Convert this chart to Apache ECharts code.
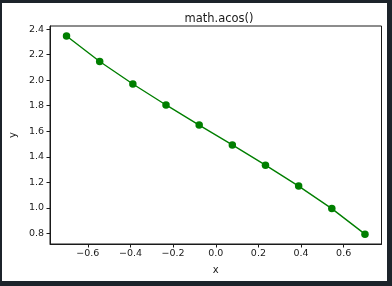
<!DOCTYPE html>
<html>
<head>
<meta charset="utf-8">
<script src="https://cdn.jsdelivr.net/npm/echarts@6/dist/echarts.min.js"></script>
<style>
html,body{margin:0;padding:0;background:#1c232a;}
#c{width:392px;height:286px;}
</style>
</head>
<body>
<div id="c"></div>
<script>
const xValues = [-0.7, -0.5444, -0.3889, -0.2333, -0.0778, 0.0778, 0.2333, 0.3889, 0.5444, 0.7];
const yValues = [2.346, 2.146, 1.970, 1.806, 1.649, 1.493, 1.335, 1.171, 0.995, 0.795];
const xTicks = [-0.6, -0.4, -0.2, 0.0, 0.2, 0.4, 0.6];
const yTicks = [0.8, 1.0, 1.2, 1.4, 1.6, 1.8, 2.0, 2.2, 2.4];
const titleText = 'math.acos()';
const xName = 'x';
const yName = 'y';

const fmt = v => {
  const s = Math.abs(v).toFixed(1);
  return (v < -1e-9 ? '\u2212' : '') + s;
};
const font = 'DejaVu Sans';
const chart = echarts.init(document.getElementById('c'), null, {renderer: 'canvas'});
chart.setOption({
  backgroundColor: '#1c232a',
  animation: false,
  graphic: [{type: 'rect', z: -10, silent: true, shape: {x: 2, y: 3, width: 385, height: 278}, style: {fill: '#ffffff'}}],
  title: {
    text: titleText, left: 214, top: 8, textAlign: 'center',
    textStyle: {fontFamily: font, fontSize: 11.5, fontWeight: 'normal', color: '#1a1a1a'}
  },
  grid: {left: 46.5, top: 26, right: 10.5, bottom: 42, show: true, borderColor: '#1a1a1a', borderWidth: 1, backgroundColor: 'transparent'},
  xAxis: {
    type: 'value', min: -0.7775, max: 0.7775,
    name: xName, nameLocation: 'middle', nameGap: 21,
    nameTextStyle: {fontFamily: font, fontSize: 10, color: '#1a1a1a'},
    axisLine: {show: true, onZero: false, lineStyle: {color: '#1a1a1a', width: 1}},
    axisTick: {show: true, length: 3.5, customValues: xTicks, lineStyle: {color: '#1a1a1a'}},
    axisLabel: {customValues: xTicks, formatter: fmt, fontFamily: font, fontSize: 9.5, color: '#1a1a1a', margin: 5},
    splitLine: {show: false}
  },
  yAxis: {
    type: 'value', min: 0.718, max: 2.424,
    name: yName, nameLocation: 'middle', nameGap: 32, nameRotate: 90,
    nameTextStyle: {fontFamily: font, fontSize: 10, color: '#1a1a1a'},
    axisLine: {show: true, onZero: false, lineStyle: {color: '#1a1a1a', width: 1}},
    axisTick: {show: true, length: 3.5, customValues: yTicks, lineStyle: {color: '#1a1a1a'}},
    axisLabel: {customValues: yTicks, formatter: v => v.toFixed(1), fontFamily: font, fontSize: 9.5, color: '#1a1a1a', margin: 6},
    splitLine: {show: false}
  },
  series: [{
    type: 'line',
    data: xValues.map((x, i) => [x, yValues[i]]),
    symbol: 'circle', symbolSize: 7.5,
    lineStyle: {color: '#007f00', width: 1.4},
    itemStyle: {color: '#007f00'}
  }]
});
</script>
</body>
</html>
